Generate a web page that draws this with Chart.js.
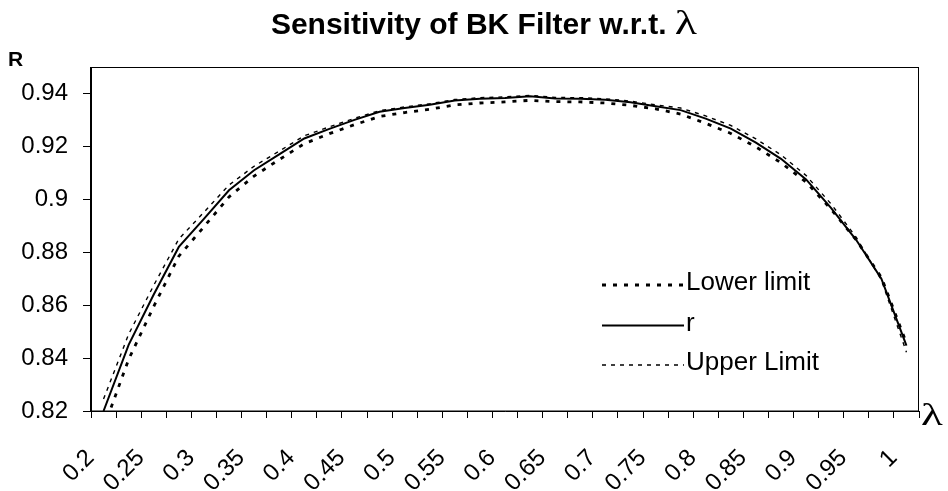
<!DOCTYPE html>
<html><head><meta charset="utf-8">
<script src="https://cdn.jsdelivr.net/npm/chart.js@4.4.0/dist/chart.umd.min.js"></script>
<style>html,body{margin:0;padding:0;background:#fff;}#wrap{width:948px;height:491px;}</style>
</head><body><div id="wrap"><canvas id="c" width="948" height="491"></canvas></div>
<script>
// categories (lambda)
const lambdaValues = [0.2, 0.225, 0.25, 0.275, 0.3, 0.325, 0.35, 0.375, 0.4, 0.425, 0.45, 0.475, 0.5, 0.525, 0.55, 0.575, 0.6, 0.625, 0.65, 0.675, 0.7, 0.725, 0.75, 0.775, 0.8, 0.825, 0.85, 0.875, 0.9, 0.925, 0.95, 0.975, 1];
// x tick labels (every other category)
const tickLabels = ['0.2','0.25','0.3','0.35','0.4','0.45','0.5','0.55','0.6','0.65','0.7','0.75','0.8','0.85','0.9','0.95','1'];
// y tick values
const yTicks = [0.82, 0.84, 0.86, 0.88, 0.9, 0.92, 0.94];
// series
const lowerLimit = [0.8135, 0.8395, 0.8595, 0.8785, 0.8896, 0.9009, 0.9088, 0.915, 0.921, 0.9248, 0.9282, 0.9313, 0.9328, 0.934, 0.9357, 0.9364, 0.9368, 0.9374, 0.9369, 0.9368, 0.9364, 0.9355, 0.9342, 0.9322, 0.9287, 0.9249, 0.9198, 0.9138, 0.9065, 0.8962, 0.8846, 0.8705, 0.8457];
const rValues = [0.820, 0.845, 0.864, 0.882, 0.8926, 0.9034, 0.911, 0.917, 0.923, 0.9266, 0.930, 0.9331, 0.9345, 0.9357, 0.9373, 0.938, 0.9383, 0.9389, 0.9381, 0.938, 0.9376, 0.9367, 0.9352, 0.9337, 0.9305, 0.9267, 0.9214, 0.9153, 0.9075, 0.8967, 0.8846, 0.870, 0.8447];
const upperLimit = [0.8245, 0.849, 0.8675, 0.885, 0.8951, 0.9054, 0.9125, 0.9182, 0.924, 0.9274, 0.9306, 0.9335, 0.9349, 0.9361, 0.9377, 0.9384, 0.9387, 0.9393, 0.9385, 0.9384, 0.938, 0.9371, 0.9357, 0.9345, 0.9315, 0.9279, 0.9228, 0.9168, 0.909, 0.8982, 0.8856, 0.8695, 0.8422];

const SANS = '"Liberation Sans", Arial, sans-serif';
const SERIF = '"Liberation Serif", "Times New Roman", serif';

function drawLambda(ctx, x, y, size, sx) {
  ctx.save();
  ctx.font = size + 'px ' + SERIF;
  ctx.translate(x, y);
  ctx.scale(sx, 1);
  ctx.fillText('λ', 0, 0);
  ctx.restore();
}

const decor = {
  id: 'decor',
  afterDraw(chart) {
    const ctx = chart.ctx, a = chart.chartArea;
    ctx.save();
    // frame
    ctx.strokeStyle = '#000'; ctx.lineWidth = 1; ctx.setLineDash([]);
    ctx.strokeRect(Math.round(a.left) - 0.5, Math.round(a.top) + 0.5, Math.round(a.right - a.left), Math.round(a.bottom - a.top) - 0.5);
    // title
    ctx.fillStyle = '#000'; ctx.textBaseline = 'alphabetic'; ctx.textAlign = 'left';
    const t1 = 'Sensitivity of BK Filter w.r.t. ';
    ctx.font = 'bold 30px ' + SANS;
    const w1 = ctx.measureText(t1).width;
    ctx.font = '34px ' + SERIF;
    const w2 = ctx.measureText('λ').width * 1.35;
    const x0 = 484 - (w1 + w2) / 2;
    ctx.font = 'bold 30px ' + SANS;
    ctx.fillText(t1, x0, 34);
    drawLambda(ctx, x0 + w1, 34, 34, 1.35);
    // axis names
    ctx.font = 'bold 21px ' + SANS;
    ctx.fillText('R', 8, 66);
    drawLambda(ctx, 921, 425, 31, 1.45);
    // legend
    const ys = [285, 325.5, 365];
    chart.data.datasets.forEach((ds, i) => {
      ctx.save();
      ctx.strokeStyle = ds.borderColor; ctx.lineWidth = ds.borderWidth;
      ctx.setLineDash(ds.borderDash || []);
      ctx.beginPath(); ctx.moveTo(602, ys[i]); ctx.lineTo(684, ys[i]); ctx.stroke();
      ctx.restore();
      ctx.font = '26px ' + SANS; ctx.fillStyle = '#000';
      ctx.fillText(ds.label, 686, ys[i] + 5);
    });
    ctx.restore();
  }
};

new Chart(document.getElementById('c'), {
  type: 'line',
  data: {
    labels: lambdaValues.map(String),
    datasets: [
      { label: 'Lower limit', data: lowerLimit, borderColor: '#000', borderWidth: 2.8, borderDash: [4, 7], pointRadius: 0, tension: 0, fill: false },
      { label: 'r', data: rValues, borderColor: '#000', borderWidth: 2, pointRadius: 0, tension: 0, fill: false },
      { label: 'Upper Limit', data: upperLimit, borderColor: '#000', borderWidth: 1.4, borderDash: [4, 5], pointRadius: 0, tension: 0, fill: false }
    ]
  },
  options: {
    responsive: false, animation: false, devicePixelRatio: 1,
    layout: { padding: { top: 67, right: 29, left: 0, bottom: 0 } },
    plugins: { legend: { display: false }, title: { display: false }, tooltip: { enabled: false } },
    scales: {
      x: {
        type: 'category', offset: true,
        grid: { offset: true, drawOnChartArea: false, drawTicks: true, tickLength: 7, tickColor: '#000', color: '#000' },
        border: { display: true, color: '#000', width: 1 },
        ticks: {
          autoSkip: false, maxRotation: 45, minRotation: 45, padding: 26, labelOffset: -13,
          color: '#000', font: { family: SANS, size: 24 },
          callback: (v, i) => (i % 2 === 0 ? tickLabels[i / 2] : '')
        },
        afterFit: s => { s.height = 80; s.paddingLeft = 0; s.paddingRight = 0; }
      },
      y: {
        type: 'linear', min: 0.82, max: 0.95,
        grid: { drawOnChartArea: false, drawTicks: true, tickLength: 8, tickColor: '#000', color: '#000' },
        border: { display: true, color: '#000', width: 1 },
        ticks: { padding: 15, color: '#000', font: { family: SANS, size: 24 }, callback: v => String(+v.toFixed(2)) },
        afterBuildTicks: s => { s.ticks = yTicks.map(v => ({ value: v })); },
        afterFit: s => { s.width = 91; s.paddingTop = 0; s.paddingBottom = 0; }
      }
    }
  },
  plugins: [decor]
});
</script></body></html>
